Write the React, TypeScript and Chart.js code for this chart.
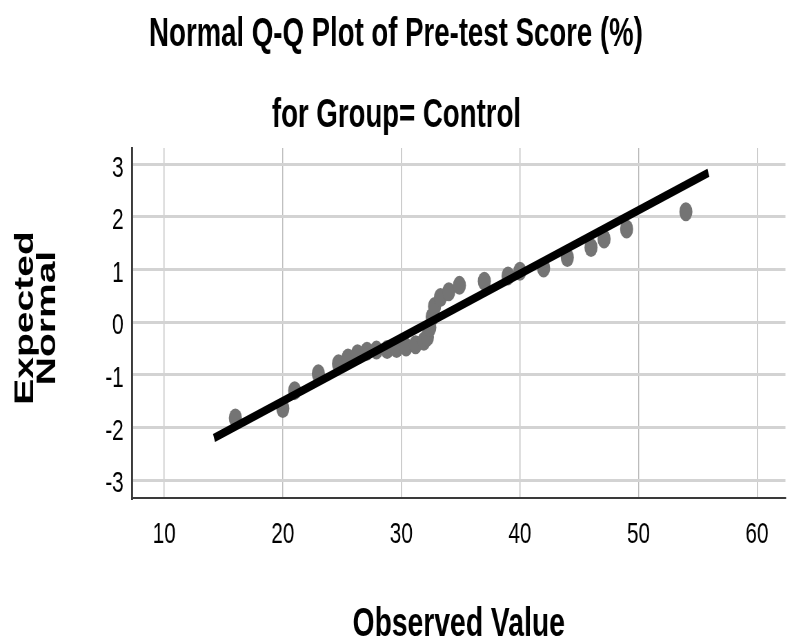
import { useEffect, useRef } from "react";
import { Chart, registerables } from "chart.js";

Chart.register(...registerables);

// ---- data ----
const observed = [16, 20, 21, 23, 24.7, 25.5, 26.3, 27.1, 27.9, 28.8, 29.6, 30.4, 31.2, 31.9, 32.2, 32.4, 32.6, 32.8, 33.3, 34, 34.9, 37, 39, 40, 42, 44, 46, 47.1, 49, 54];
const expected = [-1.82, -1.64, -1.3, -0.98, -0.79, -0.68, -0.6, -0.55, -0.53, -0.52, -0.5, -0.47, -0.43, -0.36, -0.28, -0.1, 0.1, 0.3, 0.47, 0.58, 0.7, 0.78, 0.88, 0.97, 1.03, 1.23, 1.42, 1.58, 1.77, 2.1];
const lineX = [14.2, 55.9];
const lineY = [-2.2, 2.84];
const xTicks = [10, 20, 30, 40, 50, 60];
const yTicks = [-3, -2, -1, 0, 1, 2, 3];
const xRange = [7.28, 62.4];
const yRange = [-3.34, 3.31];
const title1 = "Normal Q-Q Plot of Pre-test Score (%)";
const title2 = "for Group= Control";
const xTitle = "Observed Value";
const yTitle = ["Expected", "Normal"];

// ---- layout ----
const SX = 0.69; // horizontal squeeze of the reference
const W = 792;
const H = 641;
const IW = Math.round(W / SX);
const FONT = '"Liberation Sans", Arial, sans-serif';

export default function App() {
  const ref = useRef<HTMLCanvasElement>(null);

  useEffect(() => {
    const canvas = ref.current!;
    const textPlugin = {
      id: "texts",
      afterDraw(chart: any) {
        const ctx = chart.ctx as CanvasRenderingContext2D;
        const ca = chart.chartArea;
        ctx.save();
        ctx.fillStyle = "#000";
        ctx.textAlign = "center";
        ctx.textBaseline = "alphabetic";
        ctx.font = `bold 40px ${FONT}`;
        ctx.fillText(title1, 396 / SX, 46);
        ctx.fillText(title2, 396.5 / SX, 127);
        ctx.font = `bold 41px ${FONT}`;
        ctx.fillText(xTitle, (ca.left + ca.right) / 2, 636);
        ctx.font = `bold 39px ${FONT}`;
        const baselines = [33 / SX, 55 / SX];
        yTitle.forEach((t, i) => {
          ctx.save();
          ctx.translate(baselines[i], 318);
          ctx.rotate(-Math.PI / 2);
          ctx.fillText(t, 0, 0);
          ctx.restore();
        });
        ctx.restore();
      },
    };

    const chart = new Chart(canvas, {
      type: "scatter",
      data: {
        datasets: [
          {
            data: lineX.map((x, i) => ({ x, y: lineY[i] })),
            showLine: true,
            borderColor: "#000",
            borderWidth: 8.5,
            pointRadius: 0,
            fill: false,
          } as any,
          {
            data: observed.map((x, i) => ({ x, y: expected[i] })),
            pointRadius: 9.5,
            pointBackgroundColor: "#747474",
            pointBorderWidth: 0,
            showLine: false,
          } as any,
        ],
      },
      options: {
        animation: false,
        responsive: false,
        devicePixelRatio: 1,
        layout: { padding: { top: 148, right: 0, bottom: 0, left: 0 } },
        plugins: {
          legend: { display: false },
          tooltip: { enabled: false },
          title: { display: false },
        },
        scales: {
          x: {
            type: "linear",
            min: xRange[0],
            max: xRange[1],
            afterBuildTicks: (s: any) => {
              s.ticks = xTicks.map((v) => ({ value: v }));
            },
            afterFit: (s: any) => {
              s.height = H - 498;
            },
            grid: { color: "#bcbcbc", lineWidth: 1.45, drawTicks: false },
            border: { color: "#3a3a3a", width: 2 },
            ticks: {
              color: "#000",
              padding: 19,
              maxRotation: 0,
              font: { family: FONT, size: 30 },
            },
          },
          y: {
            type: "linear",
            min: yRange[0],
            max: yRange[1],
            afterBuildTicks: (s: any) => {
              s.ticks = yTicks.map((v) => ({ value: v }));
            },
            afterFit: (s: any) => {
              s.width = 132 / SX;
            },
            grid: { color: "#d3d3d3", lineWidth: 3, drawTicks: false },
            border: { color: "#3a3a3a", width: 2 / SX },
            ticks: {
              color: "#000",
              padding: 12,
              labelOffset: 4,
              font: { family: FONT, size: 30 },
            },
          },
        },
      },
      plugins: [textPlugin],
    });
    return () => chart.destroy();
  }, []);

  return (
    <div
      style={{
        position: "fixed",
        left: 0,
        top: 0,
        width: W,
        height: H,
        background: "#fff",
        overflow: "hidden",
      }}
    >
      <canvas
        ref={ref}
        width={IW}
        height={H}
        style={{ width: `${W}px`, height: `${H}px`, display: "block" }}
      />
    </div>
  );
}
